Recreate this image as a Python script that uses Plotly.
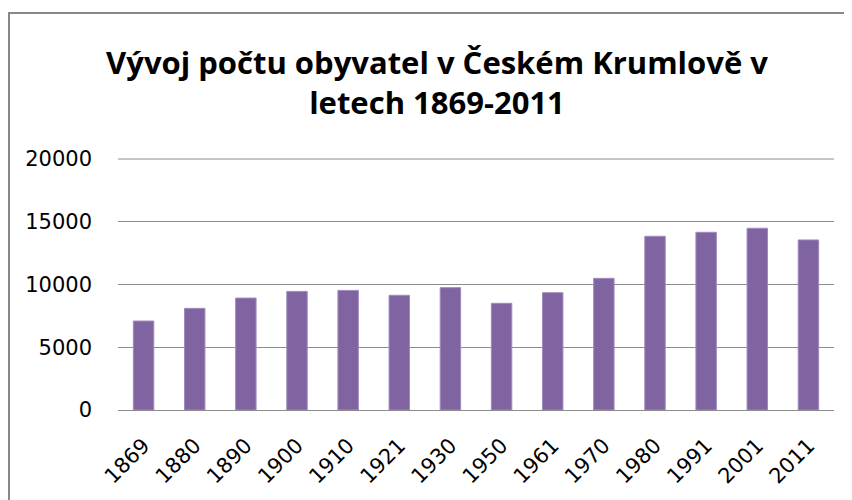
import plotly.graph_objects as go

years = ["1869", "1880", "1890", "1900", "1910", "1921", "1930",
         "1950", "1961", "1970", "1980", "1991", "2001", "2011"]
population = [7090, 8100, 8920, 9450, 9530, 9140, 9750,
              8500, 9350, 10490, 13840, 14160, 14480, 13550]
y_ticks = [0, 5000, 10000, 15000, 20000]
title_text = "Vývoj počtu obyvatel v Českém Krumlově v<br>letech 1869-2011"

# the page body adds an 8px offset, so figure coordinates are shifted by -8
W, H = 852, 500
ml, mr, mt, mb = 110, 26, 151, 98
pw, ph = W - ml - mr, H - mt - mb
GRID = "#8C8C8C"

fig = go.Figure(go.Bar(
    x=years, y=population,
    marker=dict(color="#8064A2", line=dict(color="#A08CBC", width=1)),
))

fig.update_layout(
    width=W, height=H,
    margin=dict(l=ml, r=mr, t=mt, b=mb, autoexpand=False),
    paper_bgcolor="white", plot_bgcolor="white",
    bargap=0.6,
    showlegend=False,
    font=dict(family="DejaVu Sans", color="#000000"),
    title=dict(
        text=title_text,
        x=429 / W, xanchor="center",
        y=1 - 66 / H, yanchor="middle", yref="container",
        font=dict(family="Open Sans", size=31, color="#000000", weight="bold"),
    ),
    xaxis=dict(
        type="category",
        automargin=False,
        tickangle=-45,
        tickfont=dict(size=21, family="DejaVu Sans"),
        showgrid=False,
        showline=False,
        ticks="",
        ticklabelstandoff=18,
    ),
    yaxis=dict(
        range=[0, 20000],
        automargin=False,
        tickvals=y_ticks,
        ticktext=[str(v) for v in y_ticks],
        tickfont=dict(size=21, family="DejaVu Sans"),
        showgrid=True, gridcolor=GRID, gridwidth=1,
        zeroline=True, zerolinecolor=GRID, zerolinewidth=1,
        showline=False,
        ticks="",
        ticklabelstandoff=25,
    ),
    shapes=[
        dict(
            type="rect", xref="paper", yref="paper",
            x0=(1 - ml) / pw, x1=(860 - ml) / pw,
            y0=(H - mb - 520) / ph, y1=(H - mb - 5) / ph,
            line=dict(color="#888888", width=2),
            fillcolor="rgba(0,0,0,0)", layer="below",
        ),
        dict(
            type="line", xref="paper", yref="paper",
            x0=0, x1=1, y0=1, y1=1,
            line=dict(color=GRID, width=1), layer="below",
        ),
    ],
)

fig.write_html("out.html")
